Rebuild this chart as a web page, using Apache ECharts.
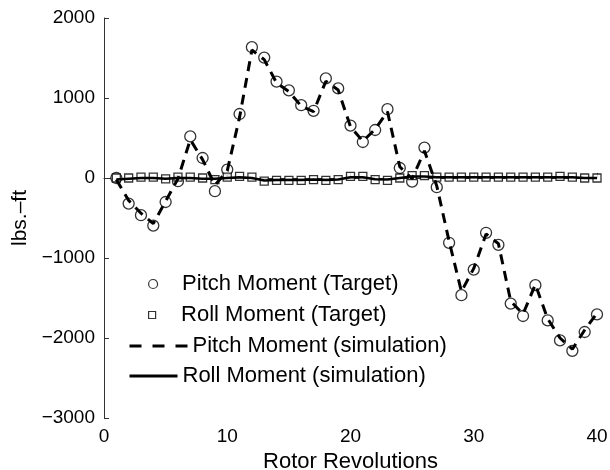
<!DOCTYPE html>
<html><head><meta charset="utf-8">
<script src="https://cdn.jsdelivr.net/npm/echarts@6/dist/echarts.min.js"></script>
<style>html,body{margin:0;padding:0;background:#fff}#c{width:610px;height:470px}</style>
</head><body><div id="c"></div>
<script>
var revs = [1,2,3,4,5,6,7,8,9,10,11,12,13,14,15,16,17,18,19,20,21,22,23,24,25,26,27,28,29,30,31,32,33,34,35,36,37,38,39,40];
var pitchTarget = [0,-320,-465,-595,-300,-40,520,250,-165,105,800,1635,1505,1205,1095,910,840,1245,1120,655,450,600,860,125,-45,380,-115,-810,-1465,-1145,-685,-835,-1570,-1725,-1340,-1780,-2030,-2160,-1925,-1705];
var rollTarget = [0,0,10,10,-10,10,10,0,-20,10,20,10,-40,-30,-30,-30,-20,-30,-20,20,20,-20,-30,0,30,30,10,10,10,10,10,10,10,10,10,10,20,10,0,0];
var pitchSim = [-20,-280,-440,-570,-290,-10,480,230,-90,90,760,1600,1480,1190,1080,900,830,1210,1100,640,460,610,830,140,-10,340,-100,-790,-1420,-1130,-700,-820,-1540,-1700,-1330,-1760,-2000,-2140,-1900,-1690];
var rollSim = [-20,-10,0,0,-10,0,0,-10,-10,0,10,0,-30,-25,-25,-25,-20,-25,-20,10,10,-15,-20,0,20,20,10,10,10,10,10,10,10,10,10,10,10,10,0,0];
var xTicks = [0,10,20,30,40];
var yTicks = [-3000,-2000,-1000,0,1000,2000];
var names = ['Pitch Moment (Target)','Roll Moment (Target)','Pitch Moment (simulation)','Roll Moment (simulation)'];

function pairs(a){return revs.map(function(r,i){return [r,a[i]];});}
var fnt = 'Liberation Sans, Arial, sans-serif';
var lts = {fontFamily:fnt,fontSize:22,color:'#000'};
var circlePath = 'path://M0,5a5,5 0 1,0 10,0a5,5 0 1,0 -10,0z';
var squarePath = 'path://M0,0L10,0L10,10L0,10Z';
function leg(name, left, cy, w, h, extra){
  var d = {name:name};
  if (extra) for (var k in extra) d[k]=extra[k];
  return {orient:'vertical',left:left,top:cy-13,itemWidth:w,itemHeight:h,itemGap:0,padding:0,
    symbolKeepAspect:true,selectedMode:false,textStyle:lts,data:[d]};
}
var chart = echarts.init(document.getElementById('c'));
chart.setOption({
  animation:false,
  backgroundColor:'#fff',
  grid:{left:104,right:13,top:18,bottom:52,outerBoundsMode:'none',containLabel:false},
  xAxis:{type:'value',min:xTicks[0],max:xTicks[xTicks.length-1],interval:10,
    name:'Rotor Revolutions',nameLocation:'middle',nameGap:31,
    nameTextStyle:{fontFamily:fnt,fontSize:22,color:'#000'},
    axisLine:{lineStyle:{color:'#333',width:1}},
    axisTick:{inside:true,length:5,lineStyle:{color:'#333'}},
    axisLabel:{fontFamily:fnt,fontSize:19,color:'#000',margin:9},
    splitLine:{show:false}},
  yAxis:{type:'value',min:yTicks[0],max:yTicks[yTicks.length-1],interval:1000,
    name:'lbs.\u2013ft',nameLocation:'middle',nameGap:73,
    nameTextStyle:{fontFamily:fnt,fontSize:21,color:'#000'},
    axisLine:{show:true,lineStyle:{color:'#333',width:1}},
    axisTick:{show:true,inside:true,length:5,lineStyle:{color:'#333'}},
    axisLabel:{fontFamily:fnt,fontSize:19,color:'#000',margin:9,
      formatter:function(v){return String(v).replace('-','\u2212');}},
    splitLine:{show:false}},
  legend:[
    leg(names[0],148,286,48,9,{icon:circlePath,itemStyle:{color:'#fff',borderColor:'#000',borderWidth:1.2}}),
    leg(names[1],148,317,48,7,{icon:squarePath,itemStyle:{color:'#fff',borderColor:'#000',borderWidth:1.2}}),
    leg(names[2],128,348,58,14,{itemStyle:{opacity:0},lineStyle:{type:[12,11],width:3}}),
    leg(names[3],128,378,48,14,{itemStyle:{opacity:0},lineStyle:{type:'solid',width:3}})
  ],
  series:[
    {name:names[0],type:'scatter',data:pairs(pitchTarget),symbol:'circle',symbolSize:11,z:2,
      itemStyle:{color:'#fff',borderColor:'#000',borderWidth:1.3}},
    {name:names[1],type:'scatter',data:pairs(rollTarget),symbol:'rect',symbolSize:8,z:2,
      itemStyle:{color:'#fff',borderColor:'#000',borderWidth:1.3}},
    {name:names[2],type:'line',data:pairs(pitchSim),symbol:'none',showSymbol:false,z:3,
      lineStyle:{color:'#000',width:3,type:[10,7]},itemStyle:{color:'#000'}},
    {name:names[3],type:'line',data:pairs(rollSim),symbol:'none',showSymbol:false,z:3,
      lineStyle:{color:'#000',width:2.5,type:'solid'},itemStyle:{color:'#000'}}
  ]
});
</script></body></html>
